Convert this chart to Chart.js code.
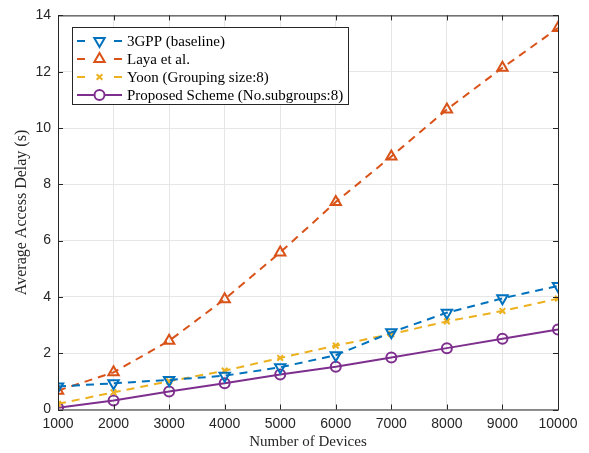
<!DOCTYPE html>
<html>
<head>
<meta charset="utf-8">
<script src="https://cdn.jsdelivr.net/npm/chart.js@4/dist/chart.umd.min.js"></script>
<style>
  html, body { margin: 0; padding: 0; background: #fff; }
  #wrap { width: 589px; height: 453px; }
</style>
</head>
<body>
<div id="wrap"><canvas id="chart" width="589" height="453"></canvas></div>
<script>
// Data
const devices = [1000, 2000, 3000, 4000, 5000, 6000, 7000, 8000, 9000, 10000];
const gpp = [0.82, 0.93, 1.05, 1.2, 1.5, 1.93, 2.74, 3.44, 3.95, 4.39];
const laya = [0.67, 1.32, 2.44, 3.92, 5.58, 7.37, 8.99, 10.66, 12.14, 13.55];
const yoon = [0.2, 0.61, 1.0, 1.38, 1.83, 2.27, 2.68, 3.13, 3.5, 3.94];
const proposed = [0.06, 0.32, 0.64, 0.93, 1.24, 1.52, 1.85, 2.18, 2.51, 2.84];
const seriesNames = ['3GPP (baseline)', 'Laya et al.', 'Yoon (Grouping size:8)', 'Proposed Scheme (No.subgroups:8)'];

const serif = '"Liberation Serif", "Times New Roman", serif';
const sans = '"Liberation Sans", Arial, sans-serif';

function toPoints(vals) {
    return vals.map((v, i) => ({ x: devices[i], y: v }));
}

function makeSet(label, vals, color, style, rotation, dashed, radius) {
    return {
        label: label,
        data: toPoints(vals),
        borderColor: color,
        backgroundColor: 'rgba(0,0,0,0)',
        borderWidth: 2,
        borderDash: dashed ? [8, 6] : [],
        pointStyle: style,
        rotation: rotation,
        pointRadius: radius,
        pointBorderWidth: 2,
        pointBorderColor: color,
        pointBackgroundColor: 'rgba(0,0,0,0)',
        tension: 0
    };
}

// frame, inward tick marks and legend box inside the plot
const framePlugin = {
    id: 'frame',
    afterDraw(chart) {
        const ctx = chart.ctx;
        const a = chart.chartArea;
        const xs = chart.scales.x, ys = chart.scales.y;
        ctx.save();
        ctx.strokeStyle = '#262626';
        ctx.lineWidth = 1;
        ctx.strokeRect(a.left + 0.5, a.top + 0.5, a.right - a.left, a.bottom - a.top);
        ctx.beginPath();
        devices.forEach(d => {
            const px = Math.round(xs.getPixelForValue(d)) + 0.5;
            ctx.moveTo(px, a.bottom); ctx.lineTo(px, a.bottom - 5);
            ctx.moveTo(px, a.top); ctx.lineTo(px, a.top + 5);
        });
        for (let v = 0; v <= 14; v += 2) {
            const py = Math.round(ys.getPixelForValue(v)) + 0.5;
            ctx.moveTo(a.left, py); ctx.lineTo(a.left + 5, py);
            ctx.moveTo(a.right, py); ctx.lineTo(a.right - 5, py);
        }
        ctx.stroke();

        // legend
        const bx = 72, by = 27, bw = 276, bh = 77;
        ctx.fillStyle = '#fff';
        ctx.fillRect(bx, by, bw, bh);
        ctx.strokeStyle = '#262626';
        ctx.strokeRect(bx + 0.5, by + 0.5, bw, bh);
        const rows = [41, 59, 77, 95];
        chart.data.datasets.forEach((ds, i) => {
            const y = rows[i];
            ctx.strokeStyle = ds.borderColor;
            ctx.lineWidth = 2;
            ctx.setLineDash([]);
            ctx.beginPath();
            if (ds.borderDash.length) {
                ctx.moveTo(77, y); ctx.lineTo(85, y);
                ctx.moveTo(114, y); ctx.lineTo(122, y);
            } else {
                ctx.moveTo(77, y); ctx.lineTo(122, y);
            }
            ctx.stroke();
            ctx.fillStyle = '#fff';
            ctx.strokeStyle = ds.borderColor;
            Chart.helpers.drawPoint(ctx, {
                pointStyle: ds.pointStyle,
                rotation: ds.rotation,
                radius: ds.pointRadius,
                borderWidth: 2
            }, 99.5, y);
            ctx.fillStyle = '#000';
            ctx.font = '15px ' + serif;
            ctx.textBaseline = 'middle';
            ctx.fillText(ds.label, 127, y + 1);
        });
        ctx.restore();
    }
};

const ctx = document.getElementById('chart').getContext('2d');
const chart = new Chart(ctx, {
    type: 'line',
    data: {
        datasets: [
            makeSet(seriesNames[0], gpp, '#0072BD', 'triangle', 180, true, 6),
            makeSet(seriesNames[1], laya, '#D95319', 'triangle', 0, true, 6),
            makeSet(seriesNames[2], yoon, '#EDB120', 'crossRot', 0, true, 4),
            makeSet(seriesNames[3], proposed, '#7E2F8E', 'circle', 0, false, 5)
        ]
    },
    options: {
        responsive: false,
        animation: false,
        devicePixelRatio: 1,
        layout: { padding: { left: 0, right: 31, top: 13, bottom: 0 } },
        plugins: {
            legend: { display: false },
            tooltip: { enabled: false }
        },
        scales: {
            x: {
                type: 'linear',
                min: 1000,
                max: 10000,
                afterFit: s => { s.height = 43.5; },
                ticks: {
                    stepSize: 1000,
                    padding: 6,
                    color: '#262626',
                    font: { family: sans, size: 14 },
                    maxRotation: 0,
                    callback: v => String(v)
                },
                grid: { color: '#e6e6e6', drawTicks: false },
                border: { display: false },
                title: {
                    display: true,
                    text: 'Number of Devices',
                    color: '#262626',
                    font: { family: serif, size: 15 },
                    padding: { top: 0, bottom: 2 }
                }
            },
            y: {
                min: 0,
                max: 14,
                afterFit: s => { s.width = 58; },
                ticks: {
                    stepSize: 2,
                    padding: 7,
                    color: '#262626',
                    font: { family: sans, size: 14 }
                },
                grid: { color: '#e6e6e6', drawTicks: false },
                border: { display: false },
                title: {
                    display: true,
                    text: 'Average Access Delay (s)',
                    color: '#262626',
                    font: { family: serif, size: 16 },
                    padding: { top: 12, bottom: 0 }
                }
            }
        }
    },
    plugins: [framePlugin]
});
</script>
</body>
</html>
